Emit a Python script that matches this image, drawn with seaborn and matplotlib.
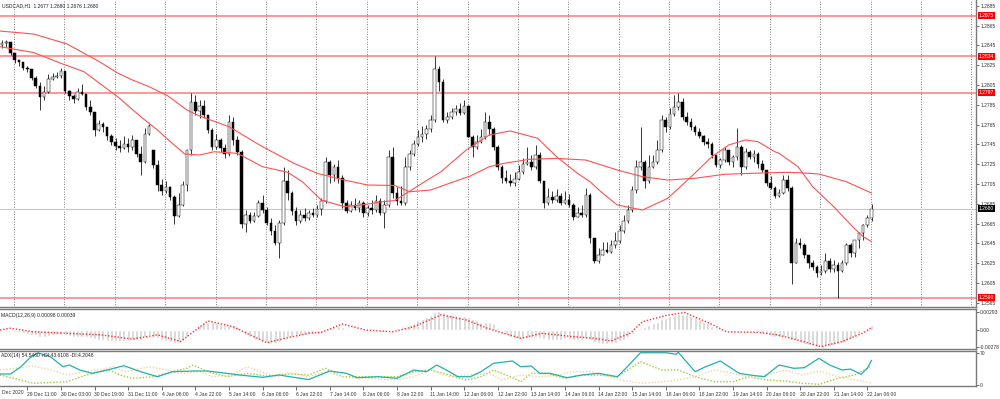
import numpy as np
import matplotlib
matplotlib.use("Agg")
import matplotlib.pyplot as plt
import matplotlib.transforms as mtransforms
import seaborn as sns

# ---------------- data ----------------
title_main = "USDCAD,H1  1.2677 1.2680 1.2676 1.2680"
title_macd = "MACD(12,26,9) 0.00098 0.00039"
title_adx = "ADX(14) 54.5460 +DI:43.6108 -DI:4.2048"

# 2-hour candles
opens = [
1.2845,1.2847,1.2848,1.2837,1.2830,1.2828,1.2822,1.2821,1.2812,1.2804,
1.2793,1.2798,1.2811,1.2813,1.2814,1.2819,1.2799,1.2794,1.2791,1.2798,
1.2796,1.2783,1.2778,1.2759,1.2766,1.2762,1.2753,1.2747,1.2743,1.2741,
1.2745,1.2742,1.2749,1.2735,1.2727,1.2755,1.2739,1.2724,1.2704,1.2698,
1.2702,1.2692,1.2673,1.2684,1.2704,1.2739,1.2788,1.2779,1.2784,1.2775,
1.2759,1.2742,1.2749,1.2741,1.2735,1.2768,1.2749,1.2737,1.2665,1.2674,
1.2668,1.2673,1.2686,1.2679,1.2666,1.2657,1.2645,1.2666,1.2708,1.2696,
1.2678,1.2668,1.2674,1.2671,1.2676,1.2674,1.2680,1.2688,1.2727,1.2714,
1.2722,1.2711,1.2686,1.2678,1.2684,1.2681,1.2686,1.2676,1.2681,1.2679,
1.2688,1.2676,1.2684,1.2732,1.2696,1.2688,1.2686,1.2722,1.2735,1.2745,
1.2752,1.2755,1.2760,1.2770,1.2821,1.2808,1.2770,1.2773,1.2778,1.2781,
1.2777,1.2784,1.2752,1.2742,1.2747,1.2752,1.2768,1.2760,1.2742,1.2722,
1.2711,1.2708,1.2706,1.2710,1.2717,1.2725,1.2727,1.2722,1.2734,1.2708,
1.2686,1.2692,1.2689,1.2693,1.2686,1.2689,1.2684,1.2672,1.2676,1.2674,
1.2694,1.2650,1.2627,1.2633,1.2638,1.2636,1.2643,1.2647,1.2657,1.2668,
1.2679,1.2699,1.2722,1.2727,1.2708,1.2722,1.2727,1.2739,1.2770,1.2762,
1.2776,1.2783,1.2788,1.2773,1.2768,1.2762,1.2757,1.2753,1.2747,1.2745,
1.2734,1.2724,1.2729,1.2739,1.2727,1.2732,1.2742,1.2722,1.2737,1.2732,
1.2735,1.2725,1.2719,1.2706,1.2701,1.2693,1.2696,1.2709,1.2701,1.2625,
1.2645,1.2643,1.2633,1.2625,1.2621,1.2615,1.2617,1.2627,1.2619,1.2623,
1.2617,1.2625,1.2643,1.2635,1.2648,1.2655,1.2663,1.2671]
highs = [
1.2850,1.2850,1.2848,1.2837,1.2830,1.2828,1.2824,1.2821,1.2814,1.2808,
1.2804,1.2816,1.2817,1.2818,1.2822,1.2819,1.2800,1.2796,1.2802,1.2806,
1.2796,1.2790,1.2778,1.2770,1.2768,1.2762,1.2755,1.2751,1.2749,1.2753,
1.2751,1.2754,1.2749,1.2743,1.2761,1.2766,1.2739,1.2729,1.2710,1.2708,
1.2703,1.2694,1.2696,1.2708,1.2739,1.2797,1.2795,1.2790,1.2790,1.2775,
1.2761,1.2755,1.2751,1.2745,1.2775,1.2773,1.2753,1.2739,1.2679,1.2677,
1.2677,1.2689,1.2694,1.2682,1.2671,1.2664,1.2669,1.2722,1.2719,1.2698,
1.2682,1.2679,1.2681,1.2679,1.2681,1.2684,1.2691,1.2732,1.2729,1.2725,
1.2729,1.2714,1.2689,1.2688,1.2691,1.2689,1.2688,1.2684,1.2689,1.2694,
1.2691,1.2689,1.2739,1.2742,1.2702,1.2703,1.2732,1.2739,1.2749,1.2759,
1.2763,1.2765,1.2775,1.2834,1.2824,1.2811,1.2778,1.2782,1.2785,1.2787,
1.2790,1.2785,1.2754,1.2754,1.2760,1.2778,1.2775,1.2762,1.2744,1.2724,
1.2719,1.2715,1.2717,1.2724,1.2731,1.2742,1.2734,1.2744,1.2737,1.2708,
1.2701,1.2698,1.2700,1.2696,1.2698,1.2695,1.2686,1.2682,1.2684,1.2701,
1.2696,1.2650,1.2640,1.2646,1.2646,1.2648,1.2656,1.2663,1.2674,1.2684,
1.2703,1.2729,1.2762,1.2729,1.2734,1.2734,1.2749,1.2775,1.2773,1.2782,
1.2795,1.2797,1.2792,1.2778,1.2772,1.2765,1.2761,1.2754,1.2751,1.2747,
1.2734,1.2731,1.2742,1.2739,1.2734,1.2761,1.2744,1.2741,1.2739,1.2739,
1.2737,1.2729,1.2719,1.2713,1.2703,1.2700,1.2714,1.2714,1.2703,1.2650,
1.2650,1.2645,1.2633,1.2628,1.2623,1.2623,1.2635,1.2630,1.2628,1.2626,
1.2628,1.2645,1.2645,1.2648,1.2656,1.2665,1.2674,1.2685]
lows = [
1.2842,1.2843,1.2835,1.2827,1.2824,1.2820,1.2818,1.2810,1.2802,1.2780,
1.2790,1.2797,1.2810,1.2812,1.2812,1.2797,1.2790,1.2787,1.2790,1.2795,
1.2780,1.2775,1.2753,1.2758,1.2757,1.2749,1.2744,1.2739,1.2737,1.2740,
1.2737,1.2739,1.2732,1.2714,1.2726,1.2754,1.2721,1.2698,1.2694,1.2696,
1.2689,1.2665,1.2672,1.2683,1.2698,1.2734,1.2775,1.2772,1.2772,1.2756,
1.2739,1.2740,1.2737,1.2731,1.2733,1.2744,1.2734,1.2660,1.2656,1.2666,
1.2667,1.2672,1.2676,1.2664,1.2653,1.2643,1.2630,1.2664,1.2689,1.2674,
1.2664,1.2666,1.2668,1.2669,1.2672,1.2672,1.2674,1.2686,1.2706,1.2708,
1.2706,1.2681,1.2676,1.2677,1.2679,1.2677,1.2672,1.2673,1.2675,1.2677,
1.2674,1.2660,1.2682,1.2691,1.2684,1.2684,1.2684,1.2719,1.2733,1.2743,
1.2747,1.2750,1.2757,1.2768,1.2799,1.2768,1.2767,1.2771,1.2775,1.2775,
1.2776,1.2752,1.2732,1.2740,1.2746,1.2750,1.2754,1.2739,1.2719,1.2706,
1.2706,1.2703,1.2703,1.2709,1.2715,1.2724,1.2719,1.2720,1.2706,1.2681,
1.2684,1.2686,1.2687,1.2684,1.2685,1.2682,1.2669,1.2672,1.2672,1.2672,
1.2645,1.2625,1.2625,1.2633,1.2635,1.2635,1.2640,1.2645,1.2655,1.2666,
1.2677,1.2696,1.2719,1.2701,1.2706,1.2721,1.2725,1.2737,1.2757,1.2760,
1.2774,1.2780,1.2770,1.2764,1.2759,1.2754,1.2751,1.2744,1.2741,1.2731,
1.2722,1.2721,1.2727,1.2724,1.2722,1.2729,1.2714,1.2720,1.2730,1.2727,
1.2721,1.2717,1.2703,1.2700,1.2691,1.2692,1.2695,1.2698,1.2604,1.2625,
1.2640,1.2630,1.2620,1.2618,1.2611,1.2613,1.2615,1.2616,1.2616,1.2590,
1.2616,1.2623,1.2631,1.2631,1.2640,1.2648,1.2661,1.2668]
closes = [
1.2847,1.2848,1.2837,1.2830,1.2828,1.2822,1.2821,1.2812,1.2804,1.2793,
1.2798,1.2811,1.2813,1.2814,1.2819,1.2799,1.2794,1.2791,1.2798,1.2796,
1.2783,1.2778,1.2759,1.2766,1.2762,1.2753,1.2747,1.2743,1.2741,1.2745,
1.2742,1.2749,1.2735,1.2727,1.2755,1.2763,1.2724,1.2704,1.2698,1.2702,
1.2692,1.2673,1.2684,1.2704,1.2739,1.2788,1.2779,1.2784,1.2775,1.2759,
1.2742,1.2749,1.2741,1.2735,1.2768,1.2749,1.2737,1.2665,1.2674,1.2668,
1.2673,1.2686,1.2679,1.2666,1.2657,1.2645,1.2666,1.2708,1.2696,1.2678,
1.2668,1.2674,1.2671,1.2676,1.2674,1.2680,1.2688,1.2727,1.2714,1.2722,
1.2711,1.2686,1.2678,1.2684,1.2681,1.2686,1.2676,1.2681,1.2679,1.2688,
1.2676,1.2684,1.2732,1.2696,1.2688,1.2686,1.2722,1.2735,1.2745,1.2752,
1.2755,1.2760,1.2770,1.2821,1.2808,1.2770,1.2773,1.2778,1.2781,1.2777,
1.2784,1.2752,1.2742,1.2747,1.2752,1.2768,1.2760,1.2742,1.2722,1.2711,
1.2708,1.2706,1.2710,1.2717,1.2725,1.2727,1.2722,1.2734,1.2708,1.2686,
1.2692,1.2689,1.2693,1.2686,1.2689,1.2684,1.2672,1.2676,1.2674,1.2694,
1.2650,1.2627,1.2633,1.2638,1.2636,1.2643,1.2647,1.2657,1.2668,1.2679,
1.2699,1.2722,1.2727,1.2708,1.2722,1.2727,1.2739,1.2770,1.2762,1.2776,
1.2783,1.2788,1.2773,1.2768,1.2762,1.2757,1.2753,1.2747,1.2745,1.2734,
1.2724,1.2729,1.2739,1.2727,1.2732,1.2742,1.2722,1.2737,1.2732,1.2735,
1.2725,1.2719,1.2706,1.2701,1.2693,1.2696,1.2709,1.2701,1.2625,1.2645,
1.2643,1.2633,1.2625,1.2621,1.2615,1.2617,1.2627,1.2619,1.2623,1.2617,
1.2625,1.2643,1.2635,1.2648,1.2655,1.2663,1.2671,1.2680]

# moving averages (sampled, position in hourly bars)
ma_slow_hour = [0,16,32,48,56,63,71,80,89,95,109,125,140,151,164,175,188,195,205,214,
                224,233,240,252,265,279,294,306,318,331,345,358,374,381,390,403,415]
ma_slow = [1.28594,1.28564,1.28463,1.28276,1.28170,1.28100,1.28032,1.27938,1.27797,1.27736,
           1.27628,1.27426,1.27258,1.27157,1.27089,1.27039,1.27034,1.26971,1.26988,1.27056,
           1.27130,1.27224,1.27258,1.27298,1.27308,1.27291,1.27190,1.27123,1.27089,1.27107,
           1.27147,1.27157,1.27167,1.27163,1.27150,1.27072,1.26958]
ma_fast_hour = [0,16,29,40,56,67,75,82,88,95,102,113,125,137,144,153,164,172,182,188,
                201,210,222,233,243,256,265,275,281,287,294,306,318,330,339,347,355,361,369,371,
                380,387,397,406,411,415]
ma_fast = [1.28436,1.28377,1.28268,1.28183,1.27931,1.27729,1.27594,1.27460,1.27352,1.27342,
           1.27375,1.27359,1.27224,1.27167,1.27072,1.26887,1.26820,1.26837,1.26870,1.26882,
           1.27056,1.27173,1.27392,1.27544,1.27585,1.27511,1.27325,1.27157,1.27072,1.26955,
           1.26837,1.26786,1.26905,1.27140,1.27325,1.27443,1.27494,1.27476,1.27375,1.27359,
           1.27224,1.27022,1.26820,1.26618,1.26517,1.26468]

level_prices = [1.2875, 1.2834, 1.2797, 1.2590]
level_labels = ["1.2875", "1.2834", "1.2797", "1.2590"]
last_price = 1.2680
last_label = "1.2680"
price_ticks = [1.2885,1.2865,1.2845,1.2825,1.2805,1.2785,1.2765,1.2745,
               1.2725,1.2705,1.2685,1.2665,1.2645,1.2625,1.2605,1.2585]

# MACD histogram (per 2-hour bar) and signal line
macd_hist = [
-0.0001,-0.0001,-0.0002,-0.0003,-0.0004,-0.0005,-0.0006,-0.0008,-0.0009,-0.0011,
-0.0011,-0.0010,-0.0009,-0.0008,-0.0008,-0.0009,-0.0010,-0.0011,-0.0011,-0.0011,
-0.0012,-0.0013,-0.0015,-0.0016,-0.0017,-0.0018,-0.0019,-0.0019,-0.0019,-0.0018,
-0.0018,-0.0017,-0.0017,-0.0016,-0.0012,-0.0009,-0.0011,-0.0014,-0.0017,-0.0019,
-0.0020,-0.0022,-0.0021,-0.0019,-0.0012,-0.0002,0.0004,0.0009,0.0012,0.0013,
0.0013,0.0012,0.0010,0.0008,0.0009,0.0008,0.0005,-0.0003,-0.0008,-0.0012,
-0.0015,-0.0017,-0.0018,-0.0020,-0.0021,-0.0022,-0.0020,-0.0015,-0.0012,-0.0011,
-0.0010,-0.0009,-0.0008,-0.0007,-0.0006,-0.0005,-0.0003,0.0002,0.0004,0.0006,
0.0007,0.0005,0.0003,0.0001,-0.0001,-0.0002,-0.0003,-0.0003,-0.0003,-0.0002,
-0.0003,-0.0003,0.0001,0.0002,0.0002,0.0002,0.0005,0.0009,0.0012,0.0016,
0.0019,0.0022,0.0025,0.0030,0.0031,0.0029,0.0027,0.0026,0.0025,0.0024,
0.0024,0.0021,0.0018,0.0016,0.0014,0.0014,0.0013,0.0011,0.0004,-0.0002,
-0.0007,-0.0011,-0.0014,-0.0015,-0.0015,-0.0014,-0.0014,-0.0012,-0.0013,-0.0015,
-0.0016,-0.0016,-0.0016,-0.0016,-0.0015,-0.0015,-0.0016,-0.0016,-0.0016,-0.0014,
-0.0017,-0.0020,-0.0022,-0.0023,-0.0023,-0.0022,-0.0021,-0.0019,-0.0016,-0.0012,
-0.0007,-0.0002,0.0003,0.0005,0.0008,0.0011,0.0014,0.0018,0.0020,0.0023,
0.0025,0.0027,0.0027,0.0026,0.0024,0.0021,0.0018,0.0014,0.0011,0.0007,
0.0003,0.0001,0.0000,-0.0002,-0.0002,-0.0001,-0.0002,-0.0002,-0.0002,-0.0003,
-0.0004,-0.0005,-0.0007,-0.0009,-0.0011,-0.0012,-0.0011,-0.0011,-0.0016,-0.0019,
-0.0021,-0.0023,-0.0025,-0.0027,-0.0028,-0.0028,-0.0027,-0.0026,-0.0025,-0.0024,
-0.0022,-0.0018,-0.0015,-0.0011,-0.0007,-0.0003,0.0003,0.0009]
signal_hour = [0,5,16,32,48,63,75,86,99,111,127,138,147,153,163,174,187,197,210,222,
               233,248,258,273,283,291,300,306,317,326,338,346,361,370,380,391,401,411,415]
signal = [0.0,0.0003,-0.0003,-0.00055,-0.0008,-0.0015,-0.0008,-0.0019,0.0015,0.00055,
          -0.0021,-0.0012,-0.00055,-0.0004,0.0010,0.0,-0.0003,0.00055,0.0025,0.00166,
          0.00017,-0.00137,-0.00055,-0.0011,-0.00137,-0.0018,-0.00055,0.00138,0.0024,0.0029,
          0.0011,-0.0003,-0.0004,-0.0008,-0.00166,-0.00276,-0.0019,-0.0005,0.00039]
macd_ticks = [0.00293, 0.0, -0.00278]
macd_tick_labels = ["0.00293", "0.00", "-0.00278"]

# ADX(14)
adx_hour = [0,5,10,14,18,24,30,33,38,44,51,59,67,75,82,92,99,108,114,125,
            133,138,147,157,165,170,180,189,197,203,208,214,218,224,229,235,244,248,253,257,
            262,270,277,285,294,298,305,317,322,323,331,336,343,352,357,364,371,378,383,390,
            395,401,405,410,413,415]
adx = [24.3,24.3,40.4,59.0,71.3,62.5,40.4,44.2,33.1,25.8,33.1,42.6,29.4,18.3,29.4,30.9,30.9,25.8,22.1,17.0,
       22.1,18.3,12.1,30.9,25.8,16.1,18.3,14.8,33.1,29.4,44.2,29.4,18.3,18.3,29.4,47.9,53.0,40.4,42.0,25.8,
       25.8,16.1,22.1,25.8,18.3,36.9,71.3,71.3,67.8,72.2,29.4,40.4,53.0,25.8,22.1,18.3,44.2,36.9,38.2,59.0,
       44.2,33.1,35.3,23.6,36.9,54.5]
pdi_hour = [0,10,16,32,41,48,52,57,63,73,82,89,92,99,108,118,127,138,147,155,
            163,180,189,197,205,214,222,229,235,243,248,253,260,269,277,285,294,300,305,315,
            323,331,340,349,357,365,374,382,390,399,407,413,415]
pdi = [22.1,11.0,3.8,7.3,22.1,29.4,33.1,22.1,14.8,18.3,29.4,36.9,44.2,29.4,18.3,25.8,19.9,24.3,22.1,36.9,
       18.3,18.3,18.3,29.4,33.1,22.1,11.0,18.3,33.1,18.3,7.3,25.8,25.8,14.8,22.1,22.1,18.3,36.9,51.4,33.1,
       33.1,18.3,7.3,7.3,18.3,11.0,8.8,3.8,1.5,14.8,22.1,36.9,43.6]
mdi_hour = [0,16,24,32,40,48,54,60,71,80,84,95,101,110,118,124,132,138,147,155,
            165,176,187,197,205,214,222,233,239,248,256,264,273,281,290,298,306,315,323,331,
            340,349,357,365,374,382,390,399,410,415]
mdi = [33.1,42.0,33.1,22.1,29.4,33.1,40.4,29.4,40.4,33.1,25.8,29.4,18.3,22.1,40.4,29.4,18.3,27.6,18.3,29.4,
       16.1,14.8,11.0,18.3,33.1,18.3,22.1,25.8,11.0,22.1,18.3,20.5,29.4,29.4,18.3,8.8,3.8,7.3,11.0,18.3,
       33.1,25.8,16.1,22.1,33.1,22.1,30.9,18.3,8.8,4.2]
adx_ticks = [70, 0]
adx_tick_labels = ["70", "0"]

time_labels = ["29 Dec 11:00","30 Dec 03:00","30 Dec 19:00","31 Dec 11:00","4 Jan 06:00",
               "4 Jan 22:00","5 Jan 14:00","6 Jan 06:00","6 Jan 22:00","7 Jan 14:00",
               "8 Jan 06:00","8 Jan 22:00","11 Jan 14:00","12 Jan 06:00","12 Jan 22:00",
               "13 Jan 14:00","14 Jan 06:00","14 Jan 22:00","15 Jan 14:00","18 Jan 06:00",
               "18 Jan 22:00","19 Jan 14:00","20 Jan 06:00","20 Jan 22:00","21 Jan 14:00",
               "22 Jan 06:00"]
first_label = "Dec 2020"

# ---------------- drawing ----------------
sns.set_theme(style="white")
plt.rcParams['font.family'] = ['Liberation Sans', 'DejaVu Sans']

W, H = 1000, 399
PX_PER_HOUR = 2.1
FS = 3.6
fig = plt.figure(figsize=(10, 3.99), dpi=100)
fig.patch.set_facecolor('white')

def box(x0, y0, x1, y1):
    return [x0 / W, 1 - y1 / H, (x1 - x0) / W, (y1 - y0) / H]

ax = fig.add_axes(box(0, 0, 976, 307))
axm = fig.add_axes(box(0, 309, 976, 349), sharex=ax)
axa = fig.add_axes(box(0, 351, 976, 386), sharex=ax)

o = np.array(opens); hi = np.array(highs); lo = np.array(lows); c = np.array(closes)
n = len(c)
bar_x = 1 + 2 * np.arange(n)

# grid (vertical dotted, main panel only)
for k in range(20):
    ax.axvline((14 + 50.39 * k) / PX_PER_HOUR, color='#555555', lw=0.6,
               ls=(0, (1, 2)), zorder=0)

# horizontal levels
for p in level_prices:
    ax.axhline(p, color='#ff5a5a', lw=1.1, alpha=0.8, zorder=1)
ax.axhline(last_price, color='#c8c8c8', lw=0.8, zorder=1)

# candles
ax.vlines(bar_x, lo, hi, color='black', lw=0.55, zorder=2)
body = np.maximum(np.abs(c - o), 0.00003)
ax.bar(bar_x, body, bottom=np.minimum(o, c), width=1.3,
       color=np.where(c >= o, 'white', 'black'), edgecolor='black',
       linewidth=0.35, zorder=3)

# moving averages
sns.lineplot(x=ma_slow_hour, y=ma_slow, ax=ax, color='#ff5050', lw=0.8, legend=False, zorder=4)
sns.lineplot(x=ma_fast_hour, y=ma_fast, ax=ax, color='#ff5050', lw=0.8, legend=False, zorder=4)

ax.set_xlim(0, 976 / PX_PER_HOUR)
ax.set_ylim(1.258067, 1.289076)

# MACD
axm.bar(bar_x, macd_hist, width=1.4, color='#d2d2d2', zorder=1)
sns.lineplot(x=signal_hour, y=signal, ax=axm, color='#ff3030', lw=1.0,
             linestyle=(0, (1, 1.3)), legend=False, zorder=2)
axm.set_ylim(-0.003146, 0.003477)

# ADX
sns.lineplot(x=pdi_hour, y=pdi, ax=axa, color='#9acd32', lw=1.0,
             linestyle=(0, (1, 1.3)), legend=False)
sns.lineplot(x=mdi_hour, y=mdi, ax=axa, color='#f2d2a0', lw=1.0,
             linestyle=(0, (1, 1.3)), legend=False)
sns.lineplot(x=adx_hour, y=adx, ax=axa, color='#20b2aa', lw=0.9, legend=False)
axa.set_ylim(-2.2, 75.1)

# axes styling
for a in (ax, axm, axa):
    a.set_facecolor('white')
    a.set_xlabel('')
    a.set_ylabel('')
    a.grid(False)
    a.yaxis.tick_right()
    a.tick_params(axis='y', direction='out', length=2, width=0.5, pad=1,
                  labelsize=FS, colors='#333333', left=False, right=True)
    for side, sp in a.spines.items():
        sp.set_color('#7a7a7a')
        sp.set_linewidth(1.0)
    a.spines['left'].set_visible(False)
ax.spines['top'].set_visible(False)

ax.set_yticks(price_ticks)
ax.set_yticklabels([f"{p:.4f}" for p in price_ticks])
axm.set_yticks(macd_ticks)
axm.set_yticklabels(macd_tick_labels)
axa.set_yticks(adx_ticks)
axa.set_yticklabels(adx_tick_labels)

tick_x = 13 + 16 * np.arange(len(time_labels))
axa.set_xticks(tick_x)
axa.set_xticklabels(time_labels)
for lab in axa.get_xticklabels():
    lab.set_ha('left')
axa.tick_params(axis='x', direction='out', length=3, width=0.5, pad=1.5,
                labelsize=FS, colors='#333333', bottom=True)
for a in (ax, axm):
    a.tick_params(axis='x', bottom=False, labelbottom=False)
axa.set_xlim(0, 976 / PX_PER_HOUR)

# boxed price labels
tr = mtransforms.blended_transform_factory(ax.transAxes, ax.transData)
for p, t in zip(level_prices, level_labels):
    ax.text(1.003, p, t, transform=tr, fontsize=FS, color='white', va='center', ha='left',
            bbox=dict(boxstyle='square,pad=0.18', fc='#ff0000', ec='none'), zorder=10,
            clip_on=False)
ax.text(1.003, last_price, last_label, transform=tr, fontsize=FS, color='white',
        va='center', ha='left',
        bbox=dict(boxstyle='square,pad=0.18', fc='black', ec='none'), zorder=10, clip_on=False)

# titles
fig.text(2 / W, 1 - 5.5 / H, title_main, fontsize=FS, color='#222222', va='center', ha='left')
fig.text(1 / W, 1 - 315 / H, title_macd, fontsize=FS, color='#222222', va='center', ha='left')
fig.text(1 / W, 1 - 355 / H, title_adx, fontsize=FS, color='#222222', va='center', ha='left')
fig.text(2 / W, 1 - 392 / H, first_label, fontsize=FS, color='#333333', va='center', ha='left')

fig.savefig('out.png', dpi=100)
